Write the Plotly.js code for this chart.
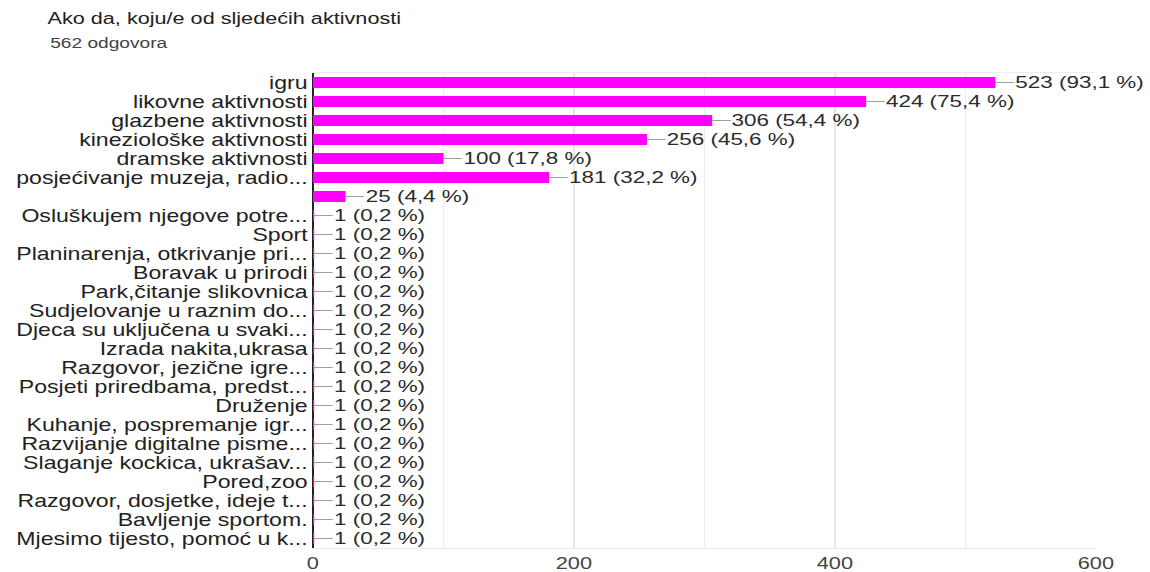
<!DOCTYPE html>
<html>
<head>
<meta charset="utf-8">
<script src="https://cdn.plot.ly/plotly-3.0.1.min.js"></script>
<style>
html, body { margin: 0; padding: 0; background: #ffffff; overflow: hidden; }
#chart { width: 871px; height: 572px; transform: scaleX(1.3203); transform-origin: 0 0; }
</style>
</head>
<body>
<div id="chart"></div>
<script>
const categories = [
  "igru",
  "likovne aktivnosti",
  "glazbene aktivnosti",
  "kineziološke aktivnosti",
  "dramske aktivnosti",
  "posjećivanje muzeja, radio...",
  "",
  "Osluškujem njegove potre...",
  "Sport",
  "Planinarenja, otkrivanje pri...",
  "Boravak u prirodi",
  "Park,čitanje slikovnica",
  "Sudjelovanje u raznim do...",
  "Djeca su uključena u svaki...",
  "Izrada nakita,ukrasa",
  "Razgovor, jezične igre...",
  "Posjeti priredbama, predst...",
  "Druženje",
  "Kuhanje, pospremanje igr...",
  "Razvijanje digitalne pisme...",
  "Slaganje kockica, ukrašav...",
  "Pored,zoo",
  "Razgovor, dosjetke, ideje t...",
  "Bavljenje sportom.",
  "Mjesimo tijesto, pomoć u k..."
];
const counts = [523, 424, 306, 256, 100, 181, 25, 1, 1, 1, 1, 1, 1, 1, 1, 1, 1, 1, 1, 1, 1, 1, 1, 1, 1];
const percents = ["93,1", "75,4", "54,4", "45,6", "17,8", "32,2", "4,4", "0,2", "0,2", "0,2", "0,2", "0,2", "0,2", "0,2", "0,2", "0,2", "0,2", "0,2", "0,2", "0,2", "0,2", "0,2", "0,2", "0,2", "0,2"];
const xTicks = [0, 200, 400, 600];
const titleText = "Ako da, koju/e od sljedećih aktivnosti";
const subtitleText = "562 odgovora";

const rowIdx = categories.map((_, i) => i);
const FONT = "Liberation Sans, Arial, sans-serif";

const annotations = counts.map((v, i) => ({
  x: v, y: i, xref: "x", yref: "y",
  text: v + " (" + percents[i] + " %)",
  showarrow: true, arrowhead: 0, arrowwidth: 1, arrowcolor: "#9e9e9e",
  ax: 14, ay: 0, standoff: 0, startstandoff: 0,
  xanchor: "left", yanchor: "middle", borderpad: 0,
  font: { family: FONT, size: 17, color: "#2b2b2b" }
}));
annotations.push({
  text: subtitleText, xref: "paper", yref: "paper",
  x: (36 - 237) / 593, y: 1 + (73 - 43) / 475,
  xanchor: "left", yanchor: "middle", showarrow: false,
  font: { family: FONT, size: 14.5, color: "#424242" }
});

const data = [{
  type: "bar", orientation: "h",
  x: counts, y: rowIdx,
  marker: { color: "#ff00ff" },
  hoverinfo: "skip"
}];

const layout = {
  width: 871, height: 572,
  paper_bgcolor: "#ffffff", plot_bgcolor: "#ffffff",
  margin: { l: 237, r: 41, t: 73, b: 24 },
  bargap: 0.42,
  showlegend: false,
  title: {
    text: titleText, xref: "container", yref: "container",
    x: 36 / 871, xanchor: "left", y: 1 - 18 / 572, yanchor: "middle",
    font: { family: FONT, size: 16.4, color: "#212121" }
  },
  xaxis: {
    range: [0, 600], fixedrange: true,
    tickvals: xTicks, ticktext: xTicks.map(String),
    showgrid: true, gridcolor: "#e6e6e6", gridwidth: 1,
    minor: { dtick: 100, tick0: 0, showgrid: true, gridcolor: "#ececec", gridwidth: 1 },
    zeroline: true, zerolinecolor: "#222222", zerolinewidth: 1.5,
    showline: true, mirror: true, linecolor: "#ececec", linewidth: 1,
    ticks: "", automargin: false,
    tickfont: { family: FONT, size: 16.5, color: "#444444" }
  },
  yaxis: {
    range: [24.5, -0.5], fixedrange: true,
    tickvals: rowIdx, ticktext: categories,
    showgrid: false, zeroline: false, showline: false,
    ticks: "", ticklabelstandoff: 3, automargin: false,
    tickfont: { family: FONT, size: 17.5, color: "#222222" }
  },
  annotations: annotations
};

Plotly.newPlot("chart", data, layout, { displayModeBar: false, staticPlot: true });
</script>
</body>
</html>
